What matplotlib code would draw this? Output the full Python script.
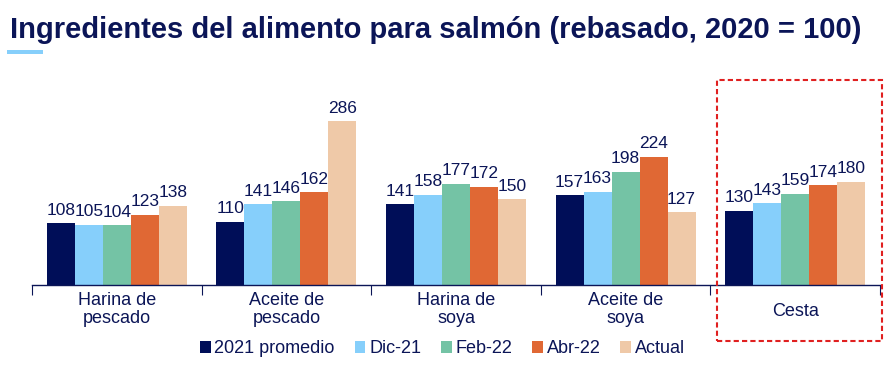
import numpy as np
import matplotlib
matplotlib.use("Agg")
import matplotlib.pyplot as plt
import matplotlib.transforms as mtransforms
from matplotlib.patches import Rectangle

plt.rcParams['font.family'] = ['Liberation Sans', 'DejaVu Sans']

categorias = ['Harina de\npescado', 'Aceite de\npescado', 'Harina de\nsoya', 'Aceite de\nsoya', 'Cesta']
series = ['2021 promedio', 'Dic-21', 'Feb-22', 'Abr-22', 'Actual']
promedio_2021 = [108, 110, 141, 157, 130]
dic_21 = [105, 141, 158, 163, 143]
feb_22 = [104, 146, 177, 198, 159]
abr_22 = [123, 162, 172, 224, 174]
actual = [138, 286, 150, 127, 180]

valores = [promedio_2021, dic_21, feb_22, abr_22, actual]
colores = ['#000E58', '#86CFFB', '#74C3A5', '#E06834', '#EFC9A8']
azul_texto = '#0B1557'

W, H = 896, 383
fig = plt.figure(figsize=(W / 100, H / 100), dpi=100)
ax = fig.add_axes([32 / W, 1 - 285 / H, 848 / W, 205 / H])

x = np.arange(len(categorias))
ancho = 0.165
for i, (nombre, vals, col) in enumerate(zip(series, valores, colores)):
    pos = x + (i - 2) * ancho
    barras = ax.bar(pos, vals, width=ancho, color=col, label=nombre)
    for b, v in zip(barras, vals):
        ax.annotate(str(v), (b.get_x() + b.get_width() / 2, v), xytext=(0, 4),
                    textcoords='offset points', ha='center', va='bottom',
                    fontsize=12.5, color=azul_texto)

ax.set_xlim(-0.5, len(categorias) - 0.5)
ax.set_ylim(0, 358)
ax.set_yticks([])
for s in ['top', 'right', 'left']:
    ax.spines[s].set_visible(False)
ax.spines['bottom'].set_color(azul_texto)
ax.spines['bottom'].set_linewidth(1)

# marcas en los limites de categoria, etiquetas al centro
ax.set_xticks(np.arange(len(categorias) + 1) - 0.5)
ax.set_xticklabels([])
ax.tick_params(axis='x', which='major', length=7, color=azul_texto, direction='out')
ax.set_xticks(x, minor=True)
etiquetas = ax.set_xticklabels(categorias, minor=True, fontsize=13, color=azul_texto, linespacing=1.1)
ax.tick_params(axis='x', which='minor', length=0, pad=5)
# "Cesta" va centrada entre las dos lineas
bajar = mtransforms.ScaledTranslation(0, -8 / 72, fig.dpi_scale_trans)
etiquetas[-1].set_transform(etiquetas[-1].get_transform() + bajar)

ax.legend(loc='upper center', bbox_to_anchor=(0.484, -0.235), ncol=5, frameon=False,
          fontsize=13, handlelength=0.6, handleheight=0.6, handletextpad=0.2,
          columnspacing=1.1, labelcolor=azul_texto, borderaxespad=0)

fig.text(10 / W, 1 - 30 / H, 'Ingredientes del alimento para salmón (rebasado, 2020 = 100)',
         fontsize=21, fontweight='bold', color=azul_texto, va='center', ha='left')
fig.add_artist(Rectangle((7 / W, 1 - 54 / H), 36 / W, 4 / H, transform=fig.transFigure,
                         color='#86CFFB', lw=0))

fig.add_artist(Rectangle((717 / W, 1 - 341 / H), 165 / W, 261 / H, transform=fig.transFigure,
                         fill=False, edgecolor='#E02020', lw=1.5, linestyle=(0, (2.5, 1.5))))

fig.savefig('out.png', dpi=100)
